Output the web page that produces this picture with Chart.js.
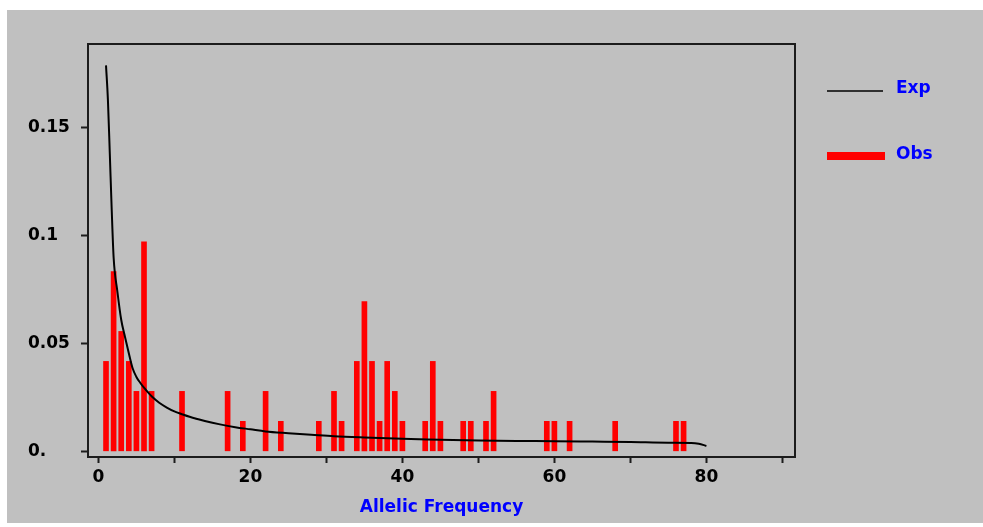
<!DOCTYPE html>
<html>
<head>
<meta charset="utf-8">
<script src="https://cdn.jsdelivr.net/npm/chart.js@4.4.1/dist/chart.umd.min.js"></script>
<style>
  html, body { margin: 0; padding: 0; background: #ffffff; }
  #wrap { width: 983px; height: 527px; }
</style>
</head>
<body>
<div id="wrap"><canvas id="canvas" width="983" height="527"></canvas></div>
<script>
// observed allele frequencies (x) and the share of alleles at each one (y)
var obsFreq = [1, 2, 3, 4, 5, 6, 7, 11, 17, 19, 22, 24, 29, 31, 32, 34, 35, 36, 37, 38, 39, 40,
               43, 44, 45, 48, 49, 51, 52, 59, 60, 62, 68, 76, 77]
var obsShare = [0.0417, 0.0833, 0.0556, 0.0417, 0.0278, 0.0972, 0.0278, 0.0278, 0.0278, 0.0139,
                0.0278, 0.0139, 0.0139, 0.0278, 0.0139, 0.0417, 0.0694, 0.0417, 0.0139, 0.0417,
                0.0278, 0.0139, 0.0139, 0.0417, 0.0139, 0.0139, 0.0139, 0.0139, 0.0278, 0.0139,
                0.0139, 0.0139, 0.0139, 0.0139, 0.0139]

// expected curve
var expX = [1, 1.25, 1.5, 1.75, 2, 2.5, 3, 3.5, 4, 4.5, 5, 5.5, 6, 7, 8, 9, 10, 11, 12, 14, 16,
            18, 20, 22, 25, 28, 31, 35, 40, 45, 50, 55, 60, 65, 70, 75, 78, 79, 80]
var expY = [0.179, 0.163, 0.138, 0.112, 0.090, 0.074, 0.061, 0.053, 0.0455, 0.0385, 0.0345,
            0.0318, 0.0295, 0.0255, 0.0225, 0.0203, 0.0185, 0.0172, 0.0160, 0.0141, 0.0125,
            0.0112, 0.0102, 0.0092, 0.0084, 0.0077, 0.0070, 0.0064, 0.0058, 0.0054, 0.0050,
            0.0048, 0.0047, 0.0045, 0.0043, 0.0040, 0.0039, 0.0035, 0.0025]

var yTickLabels = { 0: '0.', 0.05: '0.05', 0.1: '0.1', 0.15: '0.15' }

var obsPoints = []
for (var i = 0; i < obsFreq.length; i++) obsPoints.push({ x: obsFreq[i], y: obsShare[i] })
var expPoints = []
for (var j = 0; j < expX.length; j++) expPoints.push({ x: expX[j], y: expY[j] })

var FONT = '"DejaVu Sans", Verdana, sans-serif'

// grey panel behind everything, frame round the plot, legend on the right
var panel = {
  id: 'panel',
  beforeDraw: function (chart) {
    var c = chart.ctx
    c.save()
    c.fillStyle = '#ffffff'
    c.fillRect(0, 0, chart.width, chart.height)
    c.fillStyle = '#c0c0c0'
    c.fillRect(7, 10, chart.width - 7, 513)
    c.restore()
  },
  afterDraw: function (chart) {
    var c = chart.ctx, a = chart.chartArea
    c.save()
    c.strokeStyle = '#1c1c1c'
    c.lineWidth = 2
    c.strokeRect(a.left, a.top, a.right - a.left, a.bottom - a.top)

    var ds = chart.data.datasets
    c.font = 'bold 17px ' + FONT
    c.textBaseline = 'middle'
    c.textAlign = 'left'
    // Exp
    c.strokeStyle = ds[0].borderColor
    c.lineWidth = 1.6
    c.beginPath(); c.moveTo(827, 91); c.lineTo(883, 91); c.stroke()
    c.fillStyle = '#0000ff'
    c.fillText(ds[0].label, 896, 89)
    // Obs
    c.fillStyle = ds[1].backgroundColor
    c.fillRect(827, 152, 58, 8)
    c.fillStyle = '#0000ff'
    c.fillText(ds[1].label, 896, 155)
    c.restore()
  }
}

var ctx = document.getElementById('canvas').getContext('2d')
var myChart = new Chart(ctx, {
  type: 'bar',
  data: {
    datasets: [
      {
        type: 'line',
        label: 'Exp',
        data: expPoints,
        borderColor: '#000000',
        borderWidth: 2,
        pointRadius: 0,
        fill: false,
        cubicInterpolationMode: 'monotone',
        order: 0
      },
      {
        type: 'bar',
        label: 'Obs',
        data: obsPoints,
        backgroundColor: '#ff0000',
        borderWidth: 0,
        barThickness: 5,
        order: 1
      }
    ]
  },
  options: {
    responsive: false,
    animation: false,
    layout: { padding: { left: 28, top: 44, right: 188, bottom: 0 } },
    plugins: { legend: { display: false }, tooltip: { enabled: false } },
    scales: {
      x: {
        type: 'linear',
        min: -1.37,
        max: 91.66,
        offset: false,
        border: { display: false },
        grid: { drawOnChartArea: false, offset: false, color: '#1c1c1c', tickLength: 6, tickWidth: 2 },
        ticks: {
          stepSize: 10,
          includeBounds: false,
          padding: 4,
          color: '#000000',
          font: { family: FONT, size: 17, weight: 'bold' },
          maxRotation: 0,
          autoSkip: false,
          callback: function (v) { return v % 20 === 0 ? String(v) : '' }
        },
        title: {
          display: true,
          text: 'Allelic Frequency',
          color: '#0000ff',
          font: { family: FONT, size: 17, weight: 'bold' },
          padding: { top: 4, bottom: 9 }
        },
        afterFit: function (s) { s.height = 70 }
      },
      y: {
        type: 'linear',
        min: -0.00264,
        max: 0.1889,
        border: { display: false },
        grid: { drawOnChartArea: false, color: '#1c1c1c', tickLength: 7, tickWidth: 2 },
        ticks: {
          stepSize: 0.05,
          includeBounds: false,
          crossAlign: 'far',
          color: '#000000',
          font: { family: FONT, size: 17, weight: 'bold' },
          callback: function (v) {
            var k = Math.round(v * 100) / 100
            return yTickLabels[k] !== undefined ? yTickLabels[k] : ''
          }
        },
        afterFit: function (s) { s.width = 60 }
      }
    }
  },
  plugins: [panel]
})
</script>
</body>
</html>
